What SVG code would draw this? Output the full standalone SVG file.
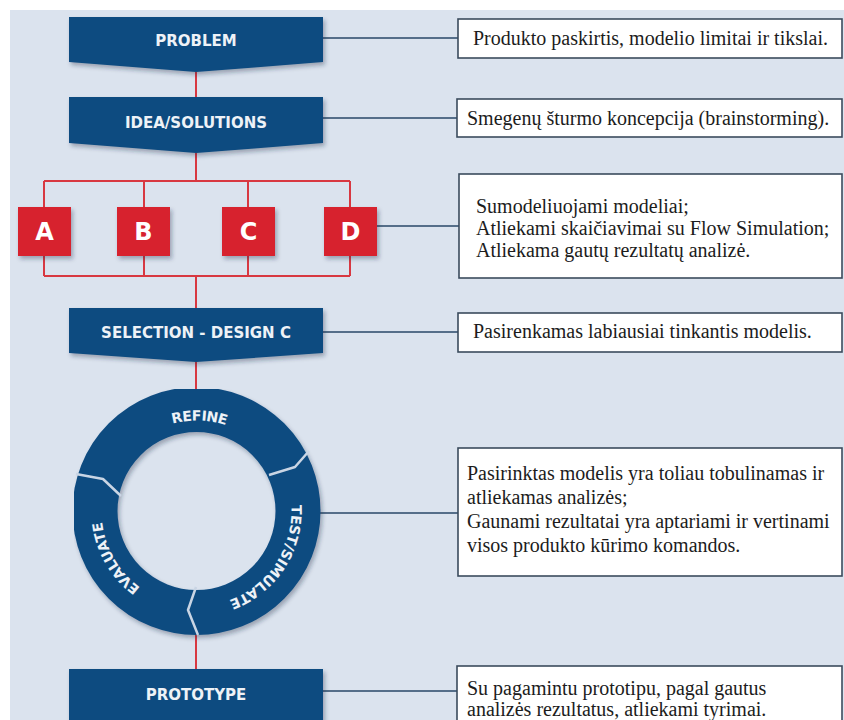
<svg xmlns="http://www.w3.org/2000/svg" xmlns:xlink="http://www.w3.org/1999/xlink" width="844" height="720" viewBox="0 0 844 720">
<defs>
<filter id="sh" x="-10%" y="-10%" width="125%" height="130%">
<feDropShadow dx="2" dy="3" stdDeviation="2" flood-color="#1a2a40" flood-opacity="0.35"/>
</filter>
<path id="ringPath" d="M 96.54 493.37 A 101.5 101.5 0 0 1 296.46 528.63 A 101.5 101.5 0 0 1 96.54 493.37"/>
<style>
.blue{fill:#0f4b80;filter:url(#sh);}
.red{fill:#d7242d;filter:url(#sh);}
.lbl{font-family:"DejaVu Sans",sans-serif;font-weight:bold;font-size:15px;fill:#eef2f7;text-anchor:middle;}
.let{font-family:"DejaVu Sans",sans-serif;font-weight:bold;font-size:24px;fill:#ffffff;text-anchor:middle;}
.ring{font-family:"DejaVu Sans",sans-serif;font-weight:bold;font-size:14px;fill:#eef2f7;letter-spacing:0.6px;}
.rl{stroke:#d83841;stroke-width:2;fill:none;}
.bl{stroke:#2a4868;stroke-width:1.6;fill:none;}
.box{fill:#ffffff;stroke:#3b4b5d;stroke-width:1.6;}
.txt{font-family:"Liberation Serif","Times New Roman",serif;font-size:20px;fill:#1c1c1c;}
.gap{stroke:#c9d5e4;stroke-width:2.5;fill:none;stroke-linejoin:round;}
</style>
</defs>
<rect x="0" y="0" width="844" height="720" fill="#ffffff"/>
<rect x="10" y="10" width="834" height="710" fill="#dbe3ee"/>

<g id="connectors">
<path class="rl" d="M196,72 V97 M196,153 V181 M44,181 H350 M44,181 V207 M144,181 V207 M248,181 V207 M350,181 V207 M44,256 V276 M144,256 V276 M248,256 V276 M350,256 V276 M44,276 H350 M196,276 V308 M196,362 V389 M196,634 V669"/>
<path class="bl" d="M323,38 H458 M321,118 H457 M377,226 H459 M323,332 H458 M320,513 H458 M323,691 H457"/>
</g>

<g id="problem">
<path class="blue" d="M69,17 H323 V62 L196,72 L69,62 Z"/>
<text class="lbl" x="196" y="46">PROBLEM</text>
</g>
<g id="idea">
<path class="blue" d="M69,97 H323 V143 L196,153 L69,143 Z"/>
<text class="lbl" x="196" y="128">IDEA/SOLUTIONS</text>
</g>
<g id="a"><rect class="red" x="18" y="207" width="53" height="49"/><text class="let" x="44.5" y="240">A</text></g>
<g id="b"><rect class="red" x="117" y="207" width="53" height="49"/><text class="let" x="143.5" y="240">B</text></g>
<g id="c"><rect class="red" x="222" y="207" width="53" height="49"/><text class="let" x="248.5" y="240">C</text></g>
<g id="d"><rect class="red" x="324" y="207" width="53" height="49"/><text class="let" x="350.5" y="240">D</text></g>
<g id="selection">
<path class="blue" d="M69,308 H323 V353 L196,362 L69,353 Z"/>
<text class="lbl" x="196" y="338">SELECTION - DESIGN C</text>
</g>
<g id="cycle">
<circle cx="196.5" cy="511" r="101.5" fill="none" stroke="#0f4b80" stroke-width="45" filter="url(#sh)"/>
<polyline class="gap" points="309,451 295,467 269,475"/>
<polyline class="gap" points="76,474 103,479 121,496"/>
<polyline class="gap" points="196,587 188,610 198,635"/>
<text class="ring" dy="11"><textPath xlink:href="#ringPath" startOffset="22.8%" text-anchor="middle">REFINE</textPath></text>
<text class="ring" dy="6.5"><textPath xlink:href="#ringPath" startOffset="56.5%" text-anchor="middle">TEST/SIMULATE</textPath></text>
<text class="ring" dy="6.5"><textPath xlink:href="#ringPath" startOffset="88.9%" text-anchor="middle">EVALUATE</textPath></text>
</g>
<g id="prototype">
<rect class="blue" x="69" y="669" width="254" height="60"/>
<text class="lbl" x="196" y="700">PROTOTYPE</text>
</g>

<g id="note1"><rect class="box" x="458" y="19" width="384" height="39"/><text class="txt" x="473" y="45">Produkto paskirtis, modelio limitai ir tikslai.</text></g>
<g id="note2"><rect class="box" x="457" y="99" width="385" height="38"/><text class="txt" x="467" y="125">Smegenų šturmo koncepcija (brainstorming).</text></g>
<g id="note3"><rect class="box" x="459" y="174" width="383" height="104"/>
<text class="txt"><tspan x="476" y="213">Sumodeliuojami modeliai;</tspan><tspan x="476" y="235">Atliekami skaičiavimai su Flow Simulation;</tspan><tspan x="476" y="257">Atliekama gautų rezultatų analizė.</tspan></text></g>
<g id="note4"><rect class="box" x="458" y="313" width="384" height="39"/><text class="txt" x="473" y="338">Pasirenkamas labiausiai tinkantis modelis.</text></g>
<g id="note5"><rect class="box" x="458" y="448" width="384" height="128"/>
<text class="txt"><tspan x="467" y="480">Pasirinktas modelis yra toliau tobulinamas ir</tspan><tspan x="467" y="504">atliekamas analizės;</tspan><tspan x="467" y="528">Gaunami rezultatai yra aptariami ir vertinami</tspan><tspan x="467" y="552">visos produkto kūrimo komandos.</tspan></text></g>
<g id="note6"><rect class="box" x="457" y="666" width="385" height="70"/>
<text class="txt"><tspan x="467" y="695">Su pagamintu prototipu, pagal gautus</tspan><tspan x="467" y="716">analizės rezultatus, atliekami tyrimai.</tspan></text></g>
</svg>
